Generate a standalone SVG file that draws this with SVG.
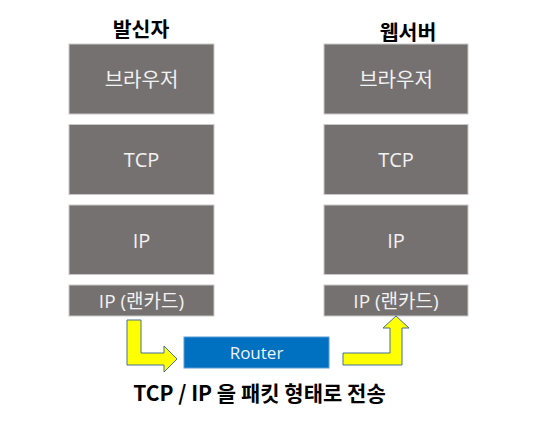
<svg xmlns="http://www.w3.org/2000/svg" width="550" height="432" viewBox="0 0 550 432">
<style>
.box{fill:#767171;stroke:#c9c9c9;stroke-width:1}
.lbl{font-family:"Open Sans","Noto Sans CJK KR",sans-serif;fill:#f2f2f2;font-size:20px;text-anchor:middle;dominant-baseline:central}
.lbl2{font-family:"Open Sans","Noto Sans CJK KR",sans-serif;fill:#f2f2f2;font-size:19px;text-anchor:middle;dominant-baseline:central}
.rt{font-family:"Open Sans",sans-serif;fill:#f2f2f2;font-size:17px;text-anchor:middle;dominant-baseline:central}
.title{font-family:"Noto Sans CJK KR",sans-serif;font-weight:bold;fill:#000;font-size:20.5px;text-anchor:middle;dominant-baseline:central}
.cap{font-family:"Noto Sans CJK KR",sans-serif;font-weight:bold;fill:#000;font-size:21px;text-anchor:middle;dominant-baseline:central}
.arrow{fill:#ffff00;stroke:#41719c;stroke-width:1;stroke-linejoin:miter}
</style>
<rect width="550" height="432" fill="#fff"/>
<g id="sender">
<text class="title" x="141" y="28">발신자</text>
<g id="s-browser"><rect class="box" x="69" y="44" width="145" height="70"/><text class="lbl" x="141.5" y="79">브라우저</text></g>
<g id="s-tcp"><rect class="box" x="69" y="124.5" width="145" height="70"/><text class="lbl" x="141.5" y="159.5">TCP</text></g>
<g id="s-ip"><rect class="box" x="69" y="205" width="145" height="69.5"/><text class="lbl" x="141.5" y="240">IP</text></g>
<g id="s-lan"><rect class="box" x="69" y="285" width="145" height="31"/><text class="lbl2" x="141.5" y="300.5">IP (랜카드)</text></g>
</g>
<g id="webserver">
<text class="title" x="408" y="31">웹서버</text>
<g id="w-browser"><rect class="box" x="324" y="44" width="144" height="70"/><text class="lbl" x="396" y="79">브라우저</text></g>
<g id="w-tcp"><rect class="box" x="324" y="124.5" width="144" height="70"/><text class="lbl" x="396" y="159.5">TCP</text></g>
<g id="w-ip"><rect class="box" x="324" y="205" width="144" height="69.5"/><text class="lbl" x="396" y="240">IP</text></g>
<g id="w-lan"><rect class="box" x="324" y="285" width="144" height="31"/><text class="lbl2" x="396" y="300.5">IP (랜카드)</text></g>
</g>
<g id="router">
<rect x="184" y="337" width="145" height="31" fill="#0070c0" stroke="#5b9bd5" stroke-width="1"/>
<text class="rt" x="256.5" y="352.5">Router</text>
</g>
<g id="connectors">
<path class="arrow" d="M127,320 H141 V353 H164 V346 L177,359 L164,372 V365 H127 Z"/>
<path class="arrow" d="M343,353 H390 V328 H383 L396,316 L409,328 H402 V365 H343 Z"/>
</g>
<text class="cap" x="259.5" y="392">TCP / IP 을 패킷 형태로 전송</text>
</svg>
